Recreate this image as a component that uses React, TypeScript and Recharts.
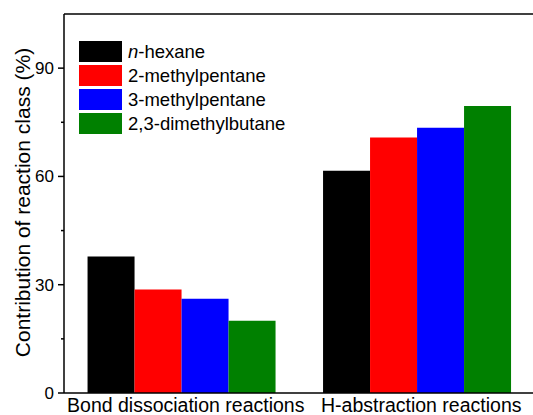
import React from "react";
import {
  BarChart, Bar, XAxis, YAxis, ReferenceLine,
} from "recharts";

const FONT = "'Liberation Sans', Arial, sans-serif";

// ── data ─────────────────────────────────────────────────────────────────────
const categories = ["Bond dissociation reactions", "H-abstraction reactions"];
const nHexane = [37.8, 61.6];
const methylpentane2 = [28.7, 70.8];
const methylpentane3 = [26.1, 73.5];
const dimethylbutane23 = [20.0, 79.5];
const yTicks = [0, 15, 30, 45, 60, 75, 90];

const series = [
  { key: "nh", name: "n-hexane", values: nHexane, color: "#000000" },
  { key: "mp2", name: "2-methylpentane", values: methylpentane2, color: "#ff0000" },
  { key: "mp3", name: "3-methylpentane", values: methylpentane3, color: "#0000ff" },
  { key: "dmb", name: "2,3-dimethylbutane", values: dimethylbutane23, color: "#008000" },
];

const data = categories.map((c, i) => {
  const row: Record<string, string | number> = { cat: c };
  series.forEach((s) => (row[s.key] = s.values[i]));
  return row;
});

const TICK_SIZE = 6;
const TICK_MARGIN = 4;

// y ticks: labelled majors every 30, short minors in between
function YTick(props: any) {
  const { x, y, payload } = props;
  const major = payload.value % 30 === 0;
  const axisX = x + TICK_MARGIN + TICK_SIZE;
  return (
    <g>
      <line x1={axisX - (major ? TICK_SIZE : 3)} x2={axisX} y1={y} y2={y} stroke="#000" strokeWidth={1.5} />
      {major && (
        <text x={x} y={y} dy="0.35em" textAnchor="end" fontSize={17} fontFamily={FONT} fill="#000">
          {payload.value}
        </text>
      )}
    </g>
  );
}

function YLabel(props: any) {
  const { viewBox } = props;
  const cy = viewBox.y + viewBox.height / 2 - 1;
  const bx = 29.5;
  return (
    <text
      x={bx}
      y={cy}
      transform={`rotate(-90, ${bx}, ${cy})`}
      textAnchor="middle"
      fontSize={21}
      fontFamily={FONT}
      fill="#000"
    >
      Contribution of reaction class (%)
    </text>
  );
}

function LegendBox() {
  return (
    <div style={{ position: "absolute", left: 79, top: 41, fontFamily: FONT, fontSize: 18.5, color: "#000" }}>
      {series.map((s) => (
        <div key={s.key} style={{ display: "flex", alignItems: "center", height: 21, marginBottom: 3 }}>
          <span style={{ width: 43, height: 21, background: s.color, display: "inline-block", marginRight: 6 }} />
          <span style={{ lineHeight: "21px", whiteSpace: "nowrap" }}>
            {s.key === "nh" ? (<><i>n</i>-hexane</>) : s.name}
          </span>
        </div>
      ))}
    </div>
  );
}

export default function App() {
  return (
    <div style={{ position: "absolute", left: 0, top: 0, width: 533, height: 415, overflow: "hidden", background: "#fff" }}>
      <BarChart
        width={535}
        height={415}
        data={data}
        margin={{ top: 14, right: 0, bottom: 0, left: 0 }}
        barCategoryGap="10%"
        barGap={0}
      >
        <XAxis
          dataKey="cat"
          height={22}
          tickLine={false}
          tickSize={0}
          tickMargin={5}
          axisLine={{ stroke: "#000", strokeWidth: 1.5 }}
          tick={{ fontSize: 19.5, fontFamily: FONT, fill: "#000", dx: 4 }}
          interval={0}
        />
        <YAxis
          width={64}
          domain={[0, 105]}
          ticks={yTicks}
          interval={0}
          tickLine={false}
          tickSize={TICK_SIZE}
          tickMargin={TICK_MARGIN}
          axisLine={{ stroke: "#000", strokeWidth: 1.5 }}
          tick={<YTick />}
          label={{ content: <YLabel /> }}
        />
        <ReferenceLine y={105} stroke="#000" strokeWidth={1.5} />
        {series.map((s) => (
          <Bar key={s.key} dataKey={s.key} name={s.name} fill={s.color} isAnimationActive={false} />
        ))}
      </BarChart>
      <LegendBox />
    </div>
  );
}
